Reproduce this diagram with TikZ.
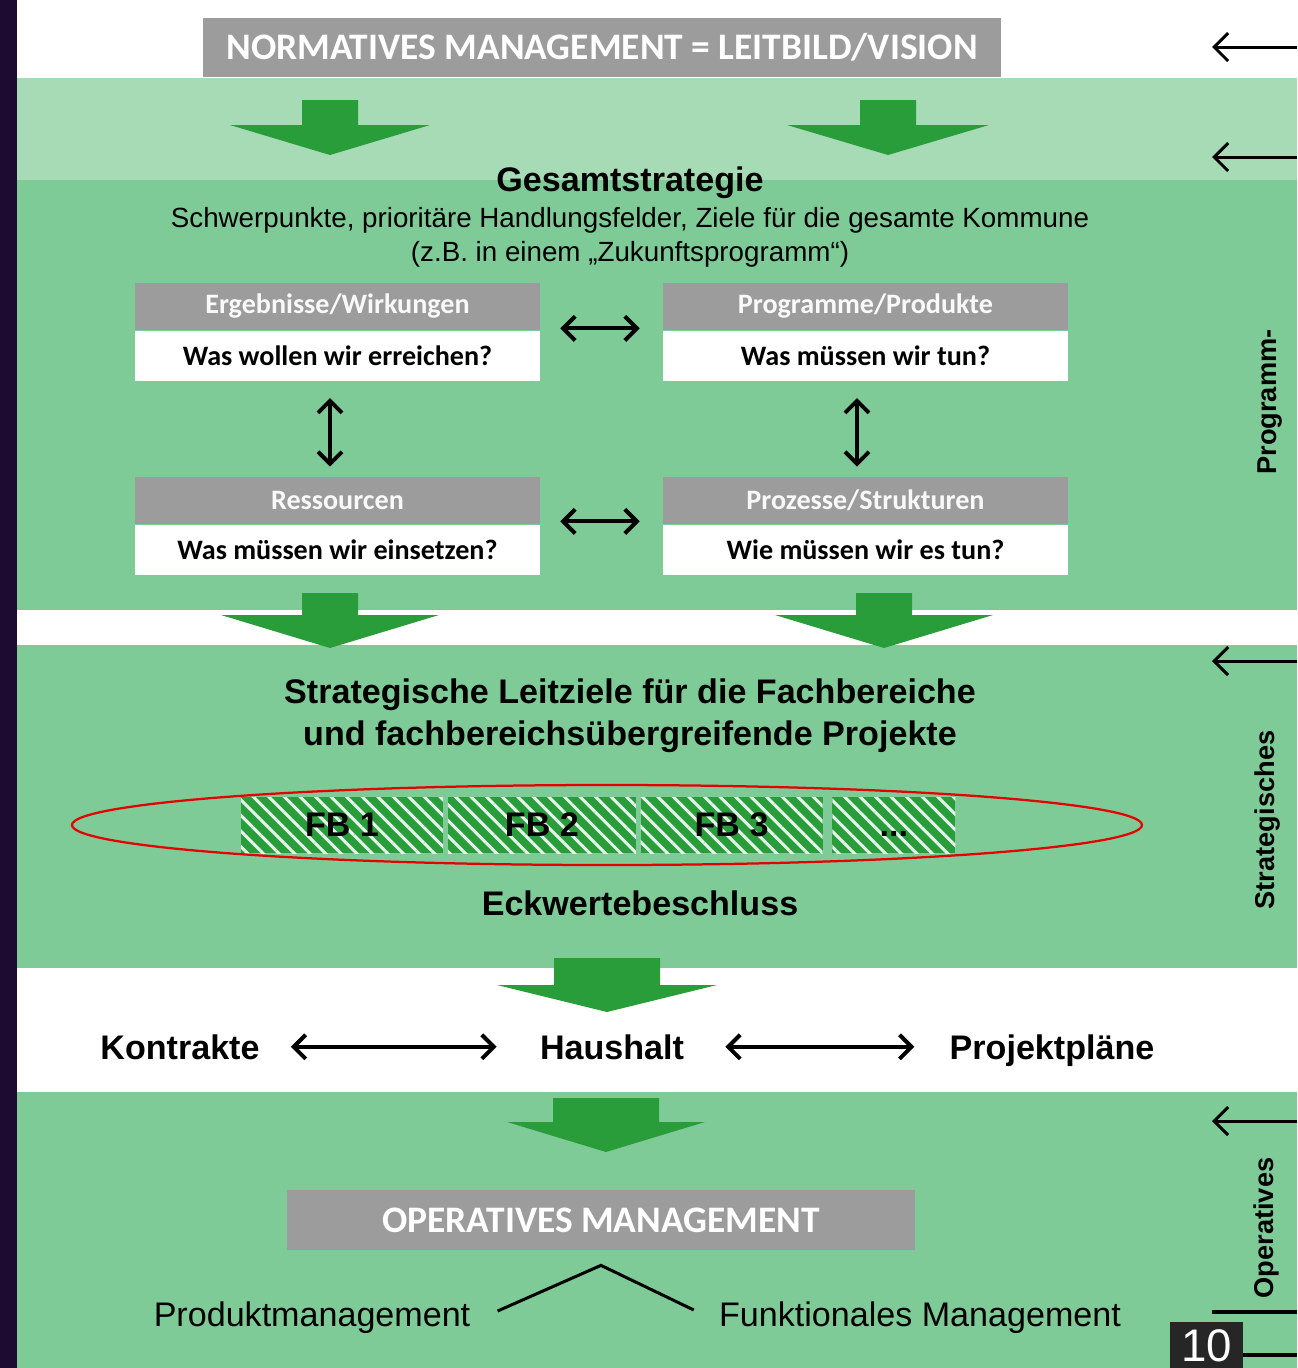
\documentclass[tikz,border=0pt]{standalone}
\usepackage{fontspec}
\setmainfont{Liberation Sans}
\newfontfamily\calibri{Carlito}
\usetikzlibrary{positioning,arrows.meta,patterns.meta,shapes.geometric}

\definecolor{bandgreen}{HTML}{7FCB97}
\definecolor{lightband}{HTML}{A6DBB5}
\definecolor{arrowgreen}{HTML}{2A9D3B}
\definecolor{headgray}{HTML}{9C9C9C}
\definecolor{darkstrip}{HTML}{1D0B31}

\tikzset{
  header/.style={fill=headgray, text=white!95!gray, font=\calibri\bfseries\fontsize{16}{18}\selectfont, minimum width=81mm, minimum height=9.4mm, inner sep=0pt},
  question/.style={fill=white, font=\calibri\bfseries\fontsize{16}{18}\selectfont, minimum width=81mm, minimum height=10mm, inner sep=0pt},
  grayband/.style={fill=headgray, text=white, font=\calibri\bfseries\fontsize{21.3}{24}\selectfont, inner sep=0pt},
  title/.style={font=\bfseries\fontsize{19.4}{24}\selectfont, align=center, inner sep=0pt},
  plain/.style={font=\fontsize{19.4}{23}\selectfont, inner sep=0pt},
  fb/.style={minimum height=11.2mm, inner sep=0pt, text height=13.6pt, text depth=0pt, preaction={fill=arrowgreen}, pattern={Lines[angle=-45,distance=2.2mm,line width=0.6mm]}, pattern color=white!80!bandgreen, font=\bfseries\fontsize{19.4}{23}\selectfont},
  dbl/.style={{Straight Barb[length=2.4mm,width=4.8mm]}-{Straight Barb[length=2.4mm,width=4.8mm]}, line width=0.8mm},
  ctrl/.style={-{Straight Barb[length=2.8mm,width=5.6mm]}, line width=0.6mm},
  side/.style={rotate=90, font=\bfseries\fontsize{15.5}{28}\selectfont, align=center, inner sep=0pt}
}

% x, shaft half width, head half width, top, head y, tip
\newcommand\greenarrow[6]{%
  \fill[arrowgreen] (#1-#2,#4) -- (#1+#2,#4) -- (#1+#2,#5) -- (#1+#3,#5) -- (#1,#6) -- (#1-#3,#5) -- (#1-#2,#5) -- cycle;}

\begin{document}
\begin{tikzpicture}[x=0.2mm,y=-0.2mm]
\useasboundingbox (0,0) rectangle (1297,1368);
% bands
\fill[white] (0,0) rectangle (1297,1368);
\fill[lightband] (0,78) rectangle (1297,180);
\fill[bandgreen] (0,180) rectangle (1297,610);
\fill[bandgreen] (0,645) rectangle (1297,968);
\fill[bandgreen] (0,1092) rectangle (1297,1368);
\fill[darkstrip] (0,0) rectangle (17,1368);

% normative level
\node[grayband, minimum width=159.6mm, minimum height=11.8mm] (norm) at (602,47.5) {NORMATIVES MANAGEMENT = LEITBILD/VISION};
\greenarrow{330}{28}{100}{100}{125}{155}
\greenarrow{888}{28}{101}{100}{125}{155}

\node[title] (ges) at (630,183) {Gesamtstrategie};
\node[font=\fontsize{15.8}{19.3}\selectfont, align=center, inner sep=0pt] (gessub) at (630,237)
  {Schwerpunkte, prioritäre Handlungsfelder, Ziele für die gesamte Kommune\\(z.B. in einem „Zukunftsprogramm“)};

% four fields
\node[header] (erg) at (337.5,306.5) {Ergebnisse/Wirkungen};
\node[question, below=0pt of erg] (ergq) {Was wollen wir erreichen?};
\node[header] (prog) at (865.5,306.5) {Programme/Produkte};
\node[question, below=0pt of prog] (progq) {Was müssen wir tun?};
\node[header] (res) at (337.5,500.5) {Ressourcen};
\node[question, below=0pt of res] (resq) {Was müssen wir einsetzen?};
\node[header] (proz) at (865.5,500.5) {Prozesse/Strukturen};
\node[question, below=0pt of proz] (prozq) {Wie müssen wir es tun?};

\draw[dbl] ([xshift=4mm,yshift=0.4mm]erg.south east) -- ([xshift=-4.6mm,yshift=0.4mm]prog.south west);
\draw[dbl] ([xshift=4mm,yshift=0.6mm]res.south east) -- ([xshift=-4.6mm,yshift=0.6mm]proz.south west);
\draw[dbl] ([xshift=-1.5mm,yshift=-3.4mm]ergq.south) -- ([xshift=-1.5mm,yshift=2mm]res.north);
\draw[dbl] ([xshift=-1.7mm,yshift=-3.4mm]progq.south) -- ([xshift=-1.7mm,yshift=2mm]proz.north);

\greenarrow{330}{28}{109}{593}{615}{648}
\greenarrow{884}{28}{109}{593}{615}{648}

% strategic level
\node[title] (leit) at (630,716) {Strategische Leitziele für die Fachbereiche\\und fachbereichsübergreifende Projekte};
\node[fb, minimum width=40.4mm] (fb1) at (342,825) {FB 1};
\node[fb, minimum width=37.6mm, right=0.6mm of fb1] (fb2) {FB 2};
\node[fb, minimum width=36.4mm, right=0.8mm of fb2] (fb3) {FB 3};
\node[fb, minimum width=24.6mm, right=1.8mm of fb3] (fb4) {...};
\node[ellipse, draw=red!90!black, line width=0.45mm, minimum width=214mm, minimum height=16mm] (eck) at (607,825) {};
\node[title] (eckb) at (640,903) {Eckwertebeschluss};

\greenarrow{607}{53}{110}{958}{985}{1012}

% budget row
\node[title, anchor=base] (kon) at (180,1059) {Kontrakte};
\node[title, anchor=base] (haus) at (612,1059) {Haushalt};
\node[title, anchor=base] (proj) at (1052,1059) {Projektpläne};
\draw[dbl] ([xshift=6.2mm]kon.east) -- ([xshift=-8.6mm]haus.west);
\draw[dbl] ([xshift=8.2mm]haus.east) -- ([xshift=-7mm]proj.west |- haus.west);

\greenarrow{606}{53}{99}{1098}{1122}{1152}

% operative level
\node[grayband, minimum width=125.6mm, minimum height=12mm] (opm) at (601,1220) {OPERATIVES MANAGEMENT};
\node[plain] (prod) at (312,1318) {Produktmanagement};
\node[plain] (funk) at (920,1318) {Funktionales Management};
\coordinate (apex) at ([yshift=-3mm]opm.south);
\draw[line width=0.6mm] ([xshift=5.4mm,yshift=1.4mm]prod.east) -- (apex) -- ([xshift=-5mm,yshift=1.6mm]funk.west);

% controlling side
\foreach \y/\nm in {47/a,157/b,661/c,1121/d} {
  \coordinate (ctl\nm) at (1297,\y);
  \draw[ctrl] (ctl\nm) -- ++(-85,0);
}
\node[side] (progsteu) at (1270,402) {Programm-};
\node[side] (strat) at (1268,820) {Strategisches};
\node[side] (oper) at (1266,1228) {Operatives};
\draw[line width=0.8mm] (1212,1312) -- (1297,1312);
\draw[line width=0.8mm] (1240,1355) -- (1297,1355);

\node[fill=black!85, text=white, font=\fontsize{26}{28}\selectfont, minimum width=14.6mm, minimum height=9.2mm, inner sep=0pt, anchor=north west] (pnum) at (1170,1322) {10};
\end{tikzpicture}
\end{document}
